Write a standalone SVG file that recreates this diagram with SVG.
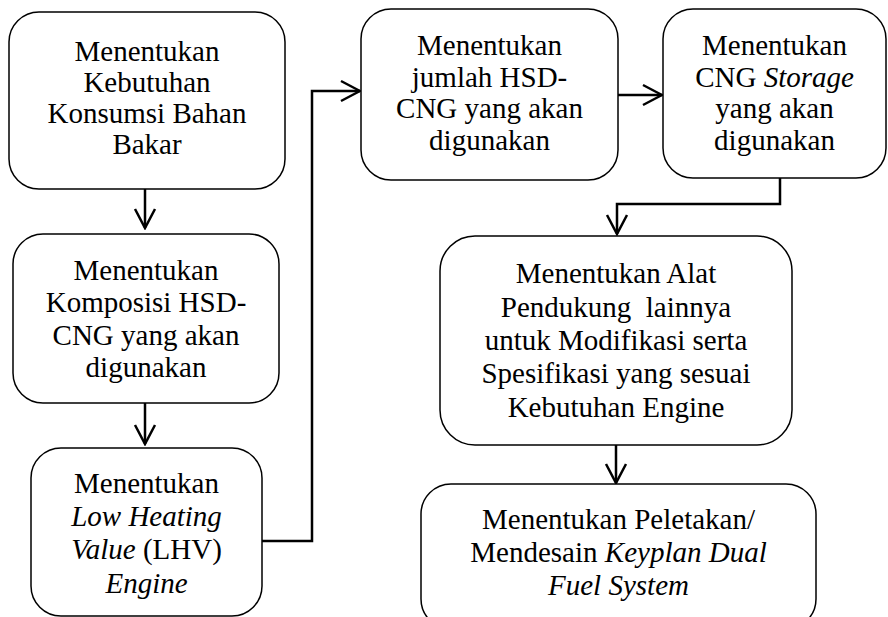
<svg xmlns="http://www.w3.org/2000/svg" width="888" height="617" viewBox="0 0 888 617">
<style>
.box{fill:#fff;stroke:#000;stroke-width:1.5}
text{font-family:"Liberation Serif","Times New Roman",serif;font-size:29px;fill:#000;text-anchor:middle}
.i{font-style:italic}
.c{fill:none;stroke:#000;stroke-width:2.5}
</style>
<defs>
<marker id="ah" markerUnits="userSpaceOnUse" viewBox="-22 -12 24 24" markerWidth="24" markerHeight="24" refX="0" refY="0" orient="auto">
<path d="M-19,-10 L0,0 L-19,10" fill="none" stroke="#000" stroke-width="2.5"/>
</marker>
</defs>
<rect width="888" height="617" fill="#fff"/>
<g id="connectors">
<path class="c" d="M145,189 L145,228" marker-end="url(#ah)"/>
<path class="c" d="M145,403 L145,444" marker-end="url(#ah)"/>
<path class="c" d="M262,541 L312,541 L312,91 L360,91" marker-end="url(#ah)"/>
<path class="c" d="M618,95 L662,95" marker-end="url(#ah)"/>
<path class="c" d="M780,178 L780,204 L617,204 L617,234" marker-end="url(#ah)"/>
<path class="c" d="M616,445 L616,483" marker-end="url(#ah)"/>
</g>
<g id="n1">
<rect class="box" x="9" y="12" width="276" height="177" rx="30"/>
<text x="147" y="61">Menentukan</text>
<text x="147" y="92">Kebutuhan</text>
<text x="147" y="123">Konsumsi Bahan</text>
<text x="147" y="154">Bakar</text>
</g>
<g id="n2">
<rect class="box" x="13" y="234" width="266" height="169" rx="30"/>
<text x="146" y="280">Menentukan</text>
<text x="146" y="312">Komposisi HSD-</text>
<text x="146" y="345">CNG yang akan</text>
<text x="146" y="377">digunakan</text>
</g>
<g id="n3">
<rect class="box" x="31" y="448" width="231" height="168" rx="30"/>
<text x="146.5" y="493">Menentukan</text>
<text x="146.5" y="526" class="i">Low Heating</text>
<text x="146.5" y="559"><tspan class="i">Value</tspan> (LHV)</text>
<text x="146.5" y="593" class="i">Engine</text>
</g>
<g id="n4">
<rect class="box" x="361" y="9" width="257" height="171" rx="30"/>
<text x="489.5" y="55">Menentukan</text>
<text x="489.5" y="87">jumlah HSD-</text>
<text x="489.5" y="118">CNG yang akan</text>
<text x="489.5" y="150">digunakan</text>
</g>
<g id="n5">
<rect class="box" x="663" y="9" width="223" height="169" rx="30"/>
<text x="774.5" y="55">Menentukan</text>
<text x="774.5" y="87">CNG <tspan class="i">Storage</tspan></text>
<text x="774.5" y="118">yang akan</text>
<text x="774.5" y="150">digunakan</text>
</g>
<g id="n6">
<rect class="box" x="440" y="236" width="352" height="209" rx="35"/>
<text x="616" y="283">Menentukan Alat</text>
<text x="616" y="317" xml:space="preserve">Pendukung  lainnya</text>
<text x="616" y="350">untuk Modifikasi serta</text>
<text x="616" y="383">Spesifikasi yang sesuai</text>
<text x="616" y="417">Kebutuhan Engine</text>
</g>
<g id="n7">
<rect class="box" x="421" y="484" width="395" height="145" rx="30"/>
<text x="618.5" y="529">Menentukan Peletakan/</text>
<text x="618.5" y="562">Mendesain <tspan class="i">Keyplan Dual</tspan></text>
<text x="618.5" y="595" class="i">Fuel System</text>
</g>
</svg>
